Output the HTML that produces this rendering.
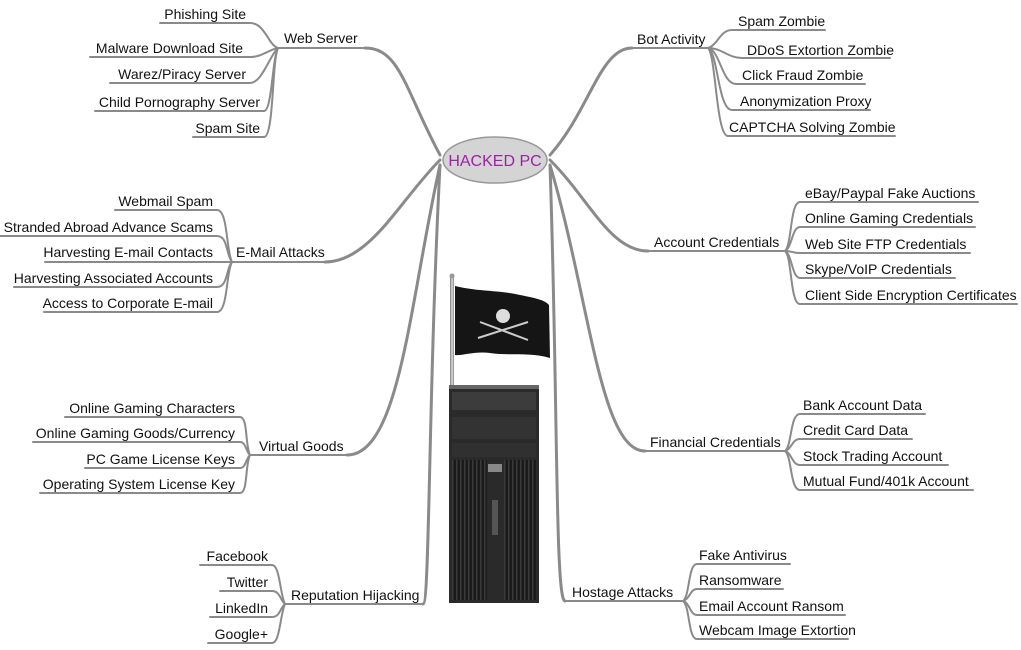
<!DOCTYPE html>
<html><head><meta charset="utf-8"><style>
html,body{margin:0;padding:0;background:#fff;}
svg{display:block;}
text{font-family:"Liberation Sans",Arial,sans-serif;font-size:14px;fill:#111;}
</style></head><body>
<svg width="1021" height="650" viewBox="0 0 1021 650" xmlns="http://www.w3.org/2000/svg">
<defs>
<pattern id="grill" width="4" height="4" patternUnits="userSpaceOnUse"><rect width="4" height="4" fill="#1a1a1a"/><rect width="1.5" height="4" fill="#3a3a3a"/></pattern>
<linearGradient id="pole" x1="0" x2="1"><stop offset="0" stop-color="#777"/><stop offset=".5" stop-color="#ddd"/><stop offset="1" stop-color="#888"/></linearGradient>
</defs>
<g fill="none" stroke="#8a8a8a" stroke-linecap="round">
<path d="M365 48 C400 48 405 90 440 155" stroke-width="3"/>
<path d="M325 262 C370 262 400 200 440 160" stroke-width="3"/>
<path d="M347 455 C400 455 410 300 440 165" stroke-width="3"/>
<path d="M423 604 C430 604 428 400 440 165" stroke-width="3"/>
<path d="M632 48 C600 48 590 110 550 155" stroke-width="3"/>
<path d="M648 251 C610 251 590 200 550 160" stroke-width="3"/>
<path d="M645 451 C600 451 590 300 550 165" stroke-width="3"/>
<path d="M565 601 C555 601 558 400 550 165" stroke-width="3"/>
<path d="M278 48 H365 M232 262 H325 M250 455 H347 M285 604 H423 M708 48 H632 M785 251 H648 M785 451 H645 M683 601 H565" stroke-width="2"/>
<g stroke-width="2">
<path d="M160 23 H250 C265 23 268 45 278 48"/>
<path d="M90 57 H250 C262 57 268 50 278 48"/>
<path d="M110 83 H250 C262 83 270 55 278 48"/>
<path d="M95 111 H264 C272 111 272 60 278 48"/>
<path d="M193 137 H264 C274 137 272 60 278 48"/>
<path d="M115 210 H217 C228 210 226 250 232 262"/>
<path d="M0 236 H217 C228 236 226 255 232 262"/>
<path d="M45 262 H232"/>
<path d="M14 287 H217 C228 287 226 268 232 262"/>
<path d="M44 312 H217 C228 312 226 272 232 262"/>
<path d="M65 417 H240 C248 417 245 445 250 455"/>
<path d="M33 442 H240 C246 442 246 452 250 455"/>
<path d="M85 468 H240 C246 468 246 458 250 455"/>
<path d="M40 493 H240 C248 493 245 465 250 455"/>
<path d="M200 565 H272 C280 565 280 595 285 604"/>
<path d="M220 591 H272 C280 591 280 600 285 604"/>
<path d="M210 617 H272 C280 617 280 608 285 604"/>
<path d="M208 643 H272 C280 643 280 615 285 604"/>
<path d="M708 48 C718 45 720 30 732 30 H825"/>
<path d="M708 48 C722 48 728 58 742 58 H890"/>
<path d="M708 48 C720 50 722 84 736 84 H865"/>
<path d="M708 48 C718 52 718 110 732 110 H870"/>
<path d="M708 48 C716 55 716 136 728 136 H895"/>
<path d="M785 251 C792 245 790 202 800 202 H978"/>
<path d="M785 251 C792 248 792 227 800 227 H975"/>
<path d="M785 251 C792 251 792 253 800 253 H970"/>
<path d="M785 251 C792 254 792 278 800 278 H955"/>
<path d="M785 251 C792 256 790 304 800 304 H1017"/>
<path d="M785 451 C792 446 790 414 800 414 H925"/>
<path d="M785 451 C792 449 792 439 800 439 H912"/>
<path d="M785 451 C792 453 792 465 800 465 H948"/>
<path d="M785 451 C792 456 790 490 800 490 H973"/>
<path d="M683 601 C690 596 688 564 697 564 H790"/>
<path d="M683 601 C690 599 690 589 697 589 H783"/>
<path d="M683 601 C690 603 690 615 697 615 H845"/>
<path d="M683 601 C690 606 688 639 697 639 H848"/>
</g>
</g>
<ellipse cx="495" cy="160" rx="52" ry="23" fill="#d4d4d4" stroke="#999" stroke-width="1.5"/>
<text x="495" y="166" text-anchor="middle" style="font-size:16px;fill:#a020a8">HACKED PC</text>
<rect x="450" y="276" width="4" height="110" fill="url(#pole)"/>
<circle cx="452" cy="276" r="2.5" fill="#999"/>
<path d="M455 286 C480 292 500 290 520 295 C535 298 545 300 549 305 L550 358 C530 352 510 356 490 353 C475 351 462 356 455 355 Z" fill="#151515"/>
<circle cx="503" cy="316" r="7" fill="#ddd"/>
<path d="M478 338 L528 322 M480 322 L528 340" stroke="#ccc" stroke-width="2"/>
<rect x="449" y="385" width="90" height="218" fill="#2a2a2a"/>
<rect x="449" y="385" width="90" height="4" fill="#666"/>
<rect x="452" y="392" width="84" height="18" fill="#3c3c3c"/>
<rect x="452" y="417" width="84" height="22" fill="#333"/>
<rect x="452" y="443" width="84" height="14" fill="#303030"/>
<rect x="452" y="460" width="35" height="140" fill="url(#grill)"/>
<rect x="504" y="460" width="32" height="140" fill="url(#grill)"/>
<rect x="488" y="464" width="14" height="8" fill="#888"/>
<rect x="492" y="500" width="6" height="35" fill="#555"/>
<text x="284" y="43">Web Server</text>
<text x="246" y="19" text-anchor="end">Phishing Site</text>
<text x="243" y="53" text-anchor="end">Malware Download Site</text>
<text x="246" y="79" text-anchor="end">Warez/Piracy Server</text>
<text x="260" y="107" text-anchor="end">Child Pornography Server</text>
<text x="260" y="133" text-anchor="end">Spam Site</text>
<text x="236" y="257">E-Mail Attacks</text>
<text x="213" y="206" text-anchor="end">Webmail Spam</text>
<text x="213" y="232" text-anchor="end">Stranded Abroad Advance Scams</text>
<text x="213" y="257" text-anchor="end">Harvesting E-mail Contacts</text>
<text x="213" y="283" text-anchor="end">Harvesting Associated Accounts</text>
<text x="213" y="308" text-anchor="end">Access to Corporate E-mail</text>
<text x="259" y="451">Virtual Goods</text>
<text x="235" y="413" text-anchor="end">Online Gaming Characters</text>
<text x="235" y="438" text-anchor="end">Online Gaming Goods/Currency</text>
<text x="235" y="464" text-anchor="end">PC Game License Keys</text>
<text x="235" y="489" text-anchor="end">Operating System License Key</text>
<text x="291" y="600">Reputation Hijacking</text>
<text x="268" y="561" text-anchor="end">Facebook</text>
<text x="268" y="587" text-anchor="end">Twitter</text>
<text x="268" y="613" text-anchor="end">LinkedIn</text>
<text x="268" y="639" text-anchor="end">Google+</text>
<text x="637" y="44">Bot Activity</text>
<text x="738" y="26">Spam Zombie</text>
<text x="747" y="55">DDoS Extortion Zombie</text>
<text x="742" y="80">Click Fraud Zombie</text>
<text x="740" y="106">Anonymization Proxy</text>
<text x="729" y="132">CAPTCHA Solving Zombie</text>
<text x="654" y="247">Account Credentials</text>
<text x="805" y="198">eBay/Paypal Fake Auctions</text>
<text x="805" y="223">Online Gaming Credentials</text>
<text x="805" y="249">Web Site FTP Credentials</text>
<text x="805" y="274">Skype/VoIP Credentials</text>
<text x="805" y="300">Client Side Encryption Certificates</text>
<text x="650" y="447">Financial Credentials</text>
<text x="803" y="410">Bank Account Data</text>
<text x="803" y="435">Credit Card Data</text>
<text x="803" y="461">Stock Trading Account</text>
<text x="803" y="486">Mutual Fund/401k Account</text>
<text x="572" y="597">Hostage Attacks</text>
<text x="699" y="560">Fake Antivirus</text>
<text x="699" y="585">Ransomware</text>
<text x="699" y="611">Email Account Ransom</text>
<text x="699" y="635">Webcam Image Extortion</text>
</svg>
</body></html>
